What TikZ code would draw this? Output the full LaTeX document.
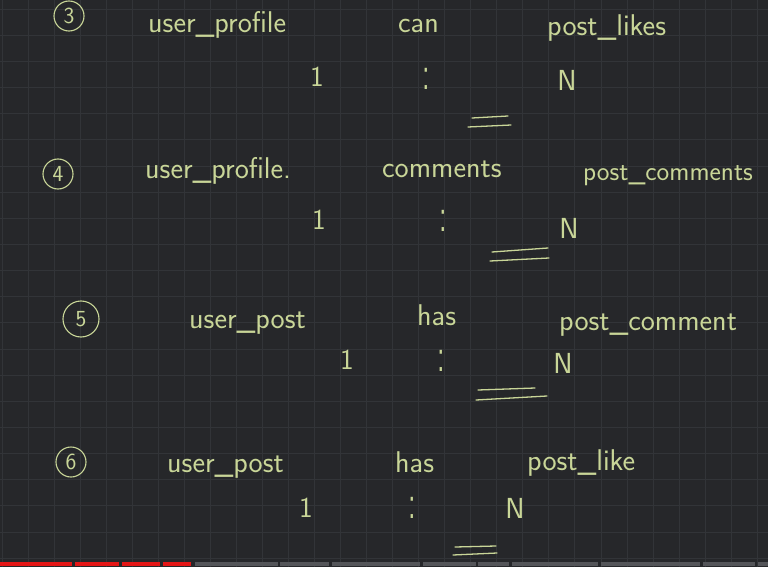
\documentclass[tikz,border=0pt]{standalone}
\usepackage{fontspec}
\usepackage{tikz}
\usetikzlibrary{positioning}
\definecolor{board}{RGB}{38,39,42}
\definecolor{gridln}{RGB}{50,52,56}
\definecolor{chalk}{RGB}{201,214,152}
\definecolor{barred}{RGB}{228,22,22}
\definecolor{bargray}{RGB}{84,85,89}
\tikzstyle{hand}=[text=chalk,font=\sffamily\fontsize{30}{30}\selectfont,inner sep=0pt,anchor=base west]
\tikzstyle{card}=[text=chalk,font=\sffamily\fontsize{29}{29}\selectfont,inner sep=0pt]
\tikzstyle{num}=[draw=chalk,circle,line width=1.1pt,text=chalk,font=\sffamily\fontsize{23}{23}\selectfont,minimum size=30pt,inner sep=0pt]
\tikzstyle{eqln}=[draw=chalk,line width=1.3pt,line cap=round]
\newcommand{\tallcolon}{\scalebox{1}[1.7]{:}}

\begin{document}
\begin{tikzpicture}[x=1pt,y=-1pt]
\useasboundingbox (0,0) rectangle (768,567);
\clip (0,0) rectangle (768,567);
\fill[board] (0,0) rectangle (768,567);
\foreach \i in {0,...,29}{\draw[gridln,line width=0.8pt] (2+26.04*\i,0) -- ++(0,567);}
\foreach \j in {0,...,21}{\draw[gridln,line width=0.8pt] (0,9+26.15*\j) -- ++(768,0);}

% 3
\node[num] (c3) at (69,16) {3};
\node[hand] (a3) at (148,33) {user\_profile};
\node[hand] (r3) at (398,33) {can};
\node[hand] (b3) at (547,36) {post\_likes};
\node[card] (one3) at (317,77) {1};
\node[card] (col3) at (426,79) {\tallcolon};
\node[card] (n3) at (567,80) {N};
\draw[eqln] (472,118) -- (508,116);
\draw[eqln] (468,127) -- (511,125);

% 4
\node[num] (c4) at (58,174) {4};
\node[hand] (a4) at (145,178) {user\_profile.};
\node[hand] (r4) at (382,177) {comments};
\node[hand,font=\sffamily\fontsize{27}{27}\selectfont] (b4) at (583,180) {post\_comments};
\node[card] (one4) at (319,220) {1};
\node[card] (col4) at (443,221) {\tallcolon};
\node[card] (n4) at (569,228) {N};
\draw[eqln] (492,252) -- (548,248);
\draw[eqln] (490,261) -- (549,258);

% 5
\node[num,minimum width=36pt] (c5) at (81,319) {5};
\node[hand] (a5) at (189,328) {user\_post};
\node[hand] (r5) at (417,325) {has};
\node[hand] (b5) at (559,330) {post\_comment};
\node[card] (one5) at (347,360) {1};
\node[card] (col5) at (441,361) {\tallcolon};
\node[card] (n5) at (563,363) {N};
\draw[eqln] (478,390) -- (535,388);
\draw[eqln] (476,400) -- (547,396);

% 6
\node[num] (c6) at (71,462) {6};
\node[hand] (a6) at (167,472) {user\_post};
\node[hand] (r6) at (395,472) {has};
\node[hand] (b6) at (527,470) {post\_like};
\node[card] (one6) at (306,508) {1};
\node[card] (col6) at (412,508) {\tallcolon};
\node[card] (n6) at (515,508) {N};
\draw[eqln] (455,547) -- (496,546);
\draw[eqln] (453,555) -- (497,553);

% progress bar
\foreach \a/\b in {0/72,75/119,122/160,163/191}{\fill[barred] (\a,562) rectangle (\b,566);}
\foreach \a/\b in {195/278,280/329,332/420,423/476,478/509,512/598,601/700,703/755,758/768}{\fill[bargray] (\a,562) rectangle (\b,566);}
\end{tikzpicture}
\end{document}
